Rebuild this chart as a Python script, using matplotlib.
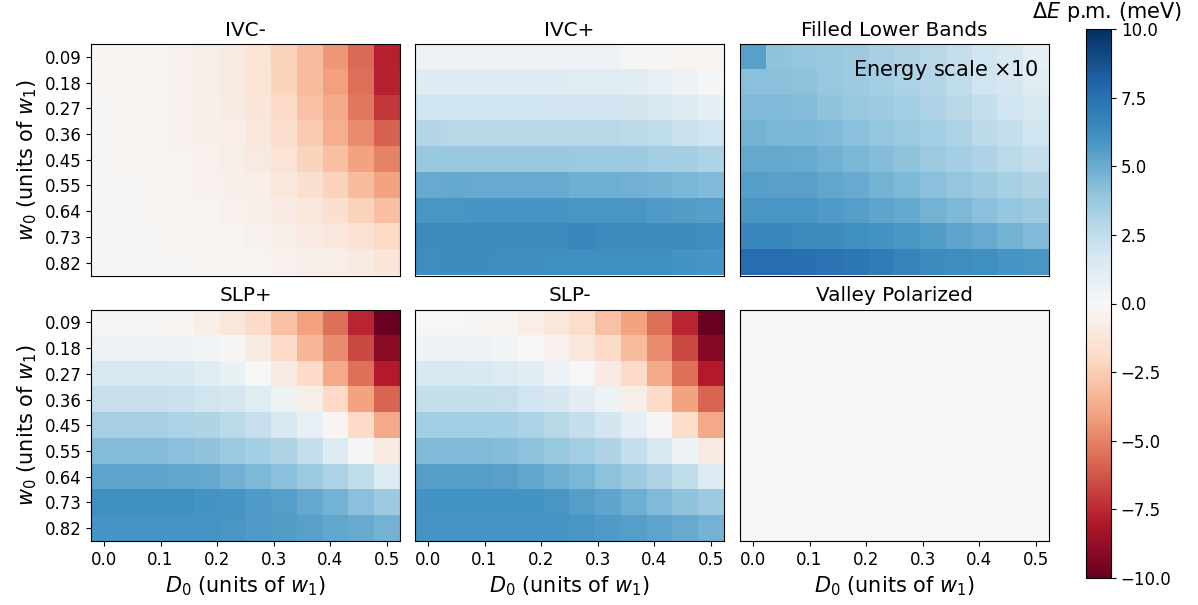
import numpy as np
import matplotlib
matplotlib.use("Agg")
import matplotlib.pyplot as plt

plt.rcParams["font.family"] = ["DejaVu Sans"]
plt.rcParams["font.size"] = 12

# Interlayer potential D0 and tunnelling w0, both in units of w1
D0 = np.linspace(0.0, 0.5, 12)
w0 = np.arange(1, 10) / 11.0

# Energy per moire cell relative to the reference state (meV); rows = w0, columns = D0
ivc_minus = [
    [-0.2, -0.2, -0.3, -0.4, -0.6, -0.9, -1.4, -2.3, -3.1, -4.3, -5.7, -7.8],
    [-0.2, -0.2, -0.3, -0.4, -0.6, -0.9, -1.4, -2.2, -3.2, -4.1, -5.5, -7.7],
    [-0.1, -0.2, -0.3, -0.4, -0.5, -0.8, -1.2, -1.9, -2.9, -3.8, -5.3, -7.1],
    [-0.1, -0.2, -0.3, -0.4, -0.5, -0.7, -1.1, -1.7, -2.6, -3.6, -4.7, -5.9],
    [-0.1, -0.2, -0.2, -0.3, -0.4, -0.6, -0.9, -1.4, -2.2, -3.0, -4.0, -5.0],
    [-0.1, -0.1, -0.2, -0.3, -0.4, -0.5, -0.7, -1.1, -1.6, -2.3, -3.2, -4.0],
    [-0.1, -0.1, -0.2, -0.2, -0.3, -0.4, -0.5, -0.8, -1.1, -1.6, -2.3, -3.0],
    [-0.1, -0.1, -0.1, -0.2, -0.2, -0.3, -0.4, -0.5, -0.8, -1.1, -1.5, -2.0],
    [-0.1, -0.1, -0.1, -0.1, -0.2, -0.2, -0.3, -0.4, -0.5, -0.7, -0.9, -1.2],
]

ivc_plus = [
    [0.6, 0.6, 0.6, 0.6, 0.6, 0.6, 0.6, 0.5, 0.2, -0.1, -0.3, -0.3],
    [1.3, 1.3, 1.3, 1.3, 1.3, 1.3, 1.2, 1.2, 1.1, 0.8, 0.5, 0.1],
    [2.0, 2.0, 2.0, 2.0, 2.0, 1.9, 1.9, 1.9, 1.8, 1.6, 1.3, 1.0],
    [2.9, 2.8, 2.8, 2.8, 2.8, 2.8, 2.8, 2.8, 2.6, 2.5, 2.2, 2.0],
    [3.8, 3.8, 3.8, 3.8, 3.8, 3.8, 3.7, 3.7, 3.6, 3.5, 3.4, 3.1],
    [5.0, 5.1, 5.0, 5.0, 5.0, 5.0, 4.9, 4.9, 4.8, 4.7, 4.6, 4.4],
    [5.8, 5.8, 5.9, 5.9, 5.9, 5.9, 5.8, 5.8, 5.8, 5.7, 5.6, 5.5],
    [6.4, 6.4, 6.4, 6.4, 6.4, 6.4, 6.5, 6.4, 6.4, 6.3, 6.3, 6.2],
    [6.2, 6.3, 6.3, 6.2, 6.2, 6.1, 6.1, 6.1, 6.1, 6.1, 6.0, 5.9],
]

# Filled lower bands: energies are ten times larger, shown divided by energy_scale
energy_scale = 10
filled_lower_bands = [
    [54, 40, 39, 38, 36, 33, 30, 28, 24, 20, 16, 10],
    [42, 42, 41, 38, 36, 34, 32, 29, 25, 20, 17, 12],
    [44, 44, 43, 40, 38, 36, 34, 31, 28, 24, 20, 16],
    [47, 46, 46, 44, 42, 39, 37, 34, 31, 26, 24, 20],
    [51, 51, 50, 48, 46, 43, 40, 37, 34, 31, 27, 24],
    [55, 54, 54, 52, 50, 47, 45, 42, 39, 36, 33, 30],
    [58, 58, 58, 57, 55, 53, 51, 47, 45, 42, 39, 36],
    [65, 65, 64, 63, 61, 60, 58, 56, 53, 50, 47, 44],
    [76, 76, 75, 74, 72, 70, 67, 64, 62, 61, 59, 58],
]

slp_plus = [
    [-0.1, -0.1, -0.1, -0.2, -0.6, -1.1, -1.9, -2.9, -4.1, -5.5, -7.6, -9.9],
    [0.6, 0.6, 0.6, 0.5, 0.3, -0.1, -0.8, -1.9, -3.3, -4.7, -6.6, -9.0],
    [1.6, 1.6, 1.6, 1.5, 1.2, 0.7, 0.0, -0.8, -1.9, -3.8, -5.5, -7.9],
    [2.3, 2.3, 2.3, 2.2, 2.0, 1.7, 1.2, 0.5, -0.6, -2.0, -4.0, -5.8],
    [3.3, 3.3, 3.3, 3.2, 3.0, 2.7, 2.3, 1.6, 0.8, -0.2, -1.9, -3.8],
    [4.3, 4.3, 4.3, 4.2, 4.0, 3.7, 3.4, 3.0, 2.4, 1.3, 0.1, -0.9],
    [5.3, 5.3, 5.3, 5.2, 5.1, 4.8, 4.5, 4.2, 3.7, 3.2, 2.5, 1.4],
    [6.1, 6.1, 6.1, 6.1, 6.0, 5.9, 5.7, 5.5, 5.1, 4.7, 4.2, 3.6],
    [5.9, 5.9, 5.9, 5.9, 5.9, 5.8, 5.7, 5.6, 5.4, 5.2, 5.0, 4.7],
]

slp_minus = [
    [0.0, 0.0, -0.1, -0.3, -0.7, -1.1, -1.8, -2.9, -4.0, -5.5, -7.6, -9.9],
    [0.5, 0.5, 0.5, 0.3, 0.05, -0.4, -1.1, -1.9, -3.2, -4.7, -6.6, -9.1],
    [1.6, 1.6, 1.5, 1.4, 1.1, 0.6, 0.0, -0.8, -1.9, -3.8, -5.5, -7.9],
    [2.4, 2.4, 2.4, 2.3, 2.0, 1.7, 1.1, 0.5, -0.6, -1.9, -4.0, -5.8],
    [3.5, 3.5, 3.5, 3.4, 3.2, 2.8, 2.4, 1.8, 1.0, -0.1, -1.8, -3.8],
    [4.4, 4.4, 4.4, 4.3, 4.1, 3.8, 3.5, 3.0, 2.4, 1.6, 0.5, -0.8],
    [5.5, 5.5, 5.5, 5.4, 5.2, 4.9, 4.6, 4.1, 3.6, 3.1, 2.5, 1.4],
    [6.0, 6.0, 6.0, 6.0, 6.0, 5.8, 5.5, 5.3, 4.9, 4.4, 4.0, 3.6],
    [5.9, 5.9, 5.9, 5.9, 5.9, 5.9, 5.8, 5.7, 5.5, 5.3, 5.0, 4.7],
]

# Valley polarized state is the reference, so its difference vanishes everywhere
valley_polarized = np.zeros((len(w0), len(D0)))

titles = ["IVC-", "IVC+", "Filled Lower Bands", "SLP+", "SLP-", "Valley Polarized"]
panels = [
    np.array(ivc_minus),
    np.array(ivc_plus),
    np.array(filled_lower_bands) / energy_scale,
    np.array(slp_plus),
    np.array(slp_minus),
    valley_polarized,
]

vmin, vmax = -10.0, 10.0
xticks = [0.0, 0.1, 0.2, 0.3, 0.4, 0.5]
cticks = [-10, -7.5, -5, -2.5, 0, 2.5, 5, 7.5, 10]

W, H = 1198, 605
fig = plt.figure(figsize=(W / 100, H / 100), dpi=100)

lefts = [91, 415, 740]
tops = [44, 309.5]
aw, ah = 309, 231.5

dx = D0[1] - D0[0]
dy = w0[1] - w0[0]
extent = [D0[0] - dx / 2, D0[-1] + dx / 2, w0[-1] + dy / 2, w0[0] - dy / 2]

im = None
for k, (title, data) in enumerate(zip(titles, panels)):
    r, c = divmod(k, 3)
    ax = fig.add_axes([lefts[c] / W, (H - tops[r] - ah) / H, aw / W, ah / H])
    im = ax.imshow(data, cmap="RdBu", vmin=vmin, vmax=vmax, extent=extent,
                   aspect="auto", interpolation="nearest")
    ax.set_title(title, fontsize=14.4, pad=6)
    if c == 0:
        ax.set_yticks(w0)
        ax.set_yticklabels([f"{v:.2f}" for v in w0])
        ax.set_ylabel("$w_0$ (units of $w_1$)", fontsize=15)
    else:
        ax.set_yticks([])
    if r == 1:
        ax.set_xticks(xticks)
        ax.set_xticklabels([f"{v:.1f}" for v in xticks])
        ax.set_xlabel("$D_0$ (units of $w_1$)", fontsize=15)
    else:
        ax.set_xticks([])
    if title == "Filled Lower Bands":
        ax.text(0.965, 0.94, f"Energy scale $\\times${energy_scale}",
                transform=ax.transAxes, ha="right", va="top", fontsize=15)

cax = fig.add_axes([1086 / W, (H - 578) / H, 25 / W, (578 - 29) / H])
cb = fig.colorbar(im, cax=cax, ticks=cticks)
cb.ax.set_yticklabels([f"{t:.1f}".replace("-", "\u2212") for t in cticks])
fig.text(1107 / W, 1 - 12 / H, "$\\Delta E$ p.m. (meV)", ha="center", va="center",
         fontsize=15)

fig.savefig("out.png", dpi=100)
